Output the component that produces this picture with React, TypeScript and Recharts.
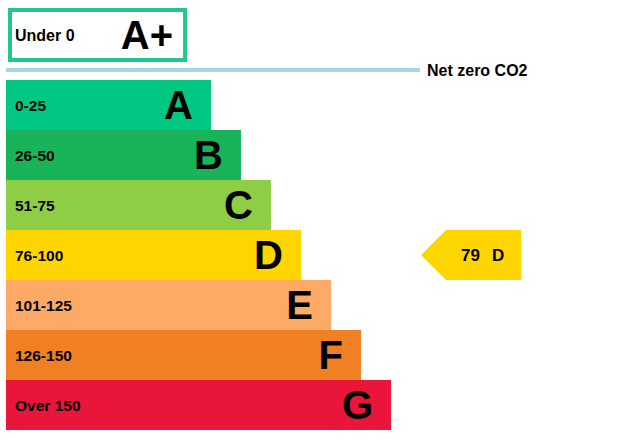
import { BarChart, Bar, XAxis, YAxis, ReferenceLine, ReferenceDot } from 'recharts';

// Rating bands, top to bottom
const bands = ['A', 'B', 'C', 'D', 'E', 'F', 'G'];
const ranges = ['0-25', '26-50', '51-75', '76-100', '101-125', '126-150', 'Over 150'];
const barLengths = [49.5, 56.75, 64, 71.25, 78.5, 85.75, 93];
const bandColors = ['#00c781', '#19b459', '#8dce46', '#ffd500', '#fcaa65', '#ef8023', '#e9153b'];

// Net zero band
const topBand = 'A+';
const topRange = 'Under 0';
const topLength = 43.25;

// Current rating
const currentScore = 79;
const currentBand = 'D';

const X_MAX = 100;
const FONT = '"Liberation Sans", Arial, sans-serif';

const rows = bands.map((band, i) => ({
    band,
    range: ranges[i],
    length: barLengths[i],
    color: bandColors[i],
}));

const topRows = [{ band: topBand, range: topRange, length: topLength }];

const BandBar = (props: any) => {
    const { x, y, width, height, payload } = props;
    return (
        <g>
            <rect x={x} y={y} width={width} height={height} fill={payload.color} />
            <text x={x + 9} y={y + height / 2} dominantBaseline="central" fontSize={15.5} fontWeight="bold" fill="#000">
                {payload.range}
            </text>
            <text x={x + width - 18} y={y + height / 2} dominantBaseline="central" textAnchor="end" fontSize={40} fontWeight="bold" fill="#000">
                {payload.band}
            </text>
        </g>
    );
};

const TopBar = (props: any) => {
    const { x, y, width, height, payload } = props;
    return (
        <g>
            <rect x={x + 4} y={y} width={width - 4} height={height} fill="#fff" stroke="#1fc98b" strokeWidth={4} />
            <text x={x + 9} y={y + height / 2} dominantBaseline="central" fontSize={16} fontWeight="bold" fill="#000">
                {payload.range}
            </text>
            <text x={x + width - 12} y={y + height / 2} dominantBaseline="central" textAnchor="end" fontSize={40} fontWeight="bold" fill="#000">
                {payload.band}
            </text>
        </g>
    );
};

const Arrow = (props: any) => {
    const { cx, cy } = props;
    const h = 25;
    return (
        <g>
            <polygon
                points={`${cx + 1},${cy} ${cx + 26},${cy - h} ${cx + 101},${cy - h} ${cx + 101},${cy + h} ${cx + 26},${cy + h}`}
                fill="#ffd500"
            />
            <text x={cx + 41} y={cy} dominantBaseline="central" fontSize={17} fontWeight="bold" fill="#000">
                {currentScore}
                <tspan dx={12}>{currentBand}</tspan>
            </text>
        </g>
    );
};

export default function App() {
    return (
        <div style={{ position: 'absolute', left: 0, top: 0, width: 627, height: 446, background: '#fff', fontFamily: FONT }}>
            <BarChart
                width={627}
                height={80}
                data={topRows}
                layout="vertical"
                margin={{ top: 0, right: 207, bottom: 10, left: 6 }}
                barCategoryGap={10}
            >
                <XAxis type="number" domain={[0, X_MAX]} hide />
                <YAxis type="category" dataKey="band" hide />
                <Bar dataKey="length" shape={TopBar} isAnimationActive={false} />
                <ReferenceLine
                    y={topBand}
                    position="end"
                    stroke="#a8d8df"
                    strokeWidth={4}
                    label={{ value: 'Net zero CO2', position: 'right', offset: 7, fill: '#000', fontSize: 16, fontWeight: 'bold' }}
                />
            </BarChart>
            <BarChart
                width={627}
                height={366}
                data={rows}
                layout="vertical"
                margin={{ top: 0, right: 207, bottom: 16, left: 6 }}
                barCategoryGap={0}
            >
                <XAxis type="number" domain={[0, X_MAX]} hide />
                <YAxis type="category" dataKey="band" hide />
                <Bar dataKey="length" shape={BandBar} isAnimationActive={false} />
                <ReferenceDot x={X_MAX} y={currentBand} ifOverflow="visible" shape={Arrow} />
            </BarChart>
        </div>
    );
}
